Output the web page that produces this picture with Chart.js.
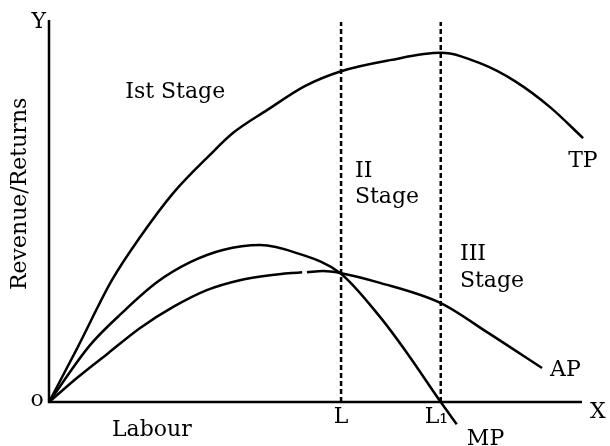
<!DOCTYPE html>
<html>
<head>
<meta charset="utf-8">
<script src="https://cdn.jsdelivr.net/npm/chart.js@4.4.1/dist/chart.umd.min.js"></script>
<style>
  html, body { margin: 0; padding: 0; background: #fff; }
  canvas { display: block; }
</style>
</head>
<body>
<canvas id="chart" width="610" height="446"></canvas>
<script>
// labour units on x (0-100), output on y (0-100)
const tpX = [0, 5.4, 11.8, 17.1, 23.3, 30.2, 34.5, 40.9, 48.0, 54.8, 64.0, 73.5, 81.2, 87.4, 94.0, 100.2];
const tpY = [0, 14.4, 31.9, 43.2, 54.7, 64.7, 70.4, 76.4, 82.7, 86.6, 89.5, 91.4, 88.5, 84.0, 77.2, 69.1];

const mpX = [0, 7.7, 13.9, 20.3, 26.5, 32.6, 39.6, 46.5, 54.6, 62.1, 67.2, 73.5, 76.5];
const mpY = [0, 14.9, 23.6, 31.4, 36.6, 39.8, 41.1, 39.0, 33.8, 22.3, 12.8, 0, -5.8];

// the AP line has a small break near x = 48
const apX = [0, 5.4, 11.1, 17.1, 23.3, 29.6, 35.8, 41.5, 47.5, 48.0, 48.4, 51.4, 54.6, 62.1, 73.5, 82.4, 92.5];
const apY = [0, 6.5, 12.8, 19.4, 24.9, 29.3, 31.9, 33.2, 34.0, null, 34.0, 34.3, 33.8, 31.2, 25.9, 18.1, 8.9];

const stageX = [54.8, 73.5];     // L and L1
const stageTop = 99.5;
const axisTop = 100;
const axisRight = 100;

const labels = [
  { text: "Ist Stage", x: 14.3, y: 79.6, align: "left" },
  { text: "II", x: 57.4, y: 58.9, align: "left" },
  { text: "Stage", x: 57.4, y: 52.1, align: "left" },
  { text: "III", x: 77.1, y: 37.2, align: "left" },
  { text: "Stage", x: 77.1, y: 30.1, align: "left" },
  { text: "TP", x: 97.4, y: 61.5, align: "left" },
  { text: "AP", x: 94.0, y: 6.8, align: "left" },
  { text: "MP", x: 78.4, y: -11.3, align: "left" },
  { text: "L", x: 54.8, y: -5.5, align: "center" },
  { text: "L\u2081", x: 70.5, y: -5.5, align: "left" },
  { text: "Labour", x: 19.3, y: -8.9, align: "center" },
  { text: "o", x: -2.25, y: -1.0, align: "center" },
  { text: "Y", x: -1.9, y: 97.9, align: "center" },
  { text: "X", x: 101.5, y: -4.2, align: "left" }
];
const yTitle = { text: "Revenue/Returns", x: -5.4, y: 54.5 };

const FONT = '22px "DejaVu Serif", serif';

function pts(xs, ys) {
  return xs.map((x, i) => ({ x, y: ys[i] }));
}

function curve(data) {
  return {
    data,
    borderColor: "#000",
    borderWidth: 2.5,
    pointRadius: 0,
    cubicInterpolationMode: "monotone",
    spanGaps: false,
    clip: false,
  };
}

function stageLine(x) {
  return {
    data: [{ x, y: 0 }, { x, y: stageTop }],
    borderColor: "#000",
    borderWidth: 2.5,
    borderDash: [5, 3],
    pointRadius: 0,
    clip: false,
  };
}

const axesPlugin = {
  id: "axes",
  beforeDatasetsDraw(chart) {
    const { ctx, scales: { x, y } } = chart;
    ctx.save();
    ctx.strokeStyle = "#000";
    ctx.lineWidth = 2.5;
    ctx.beginPath();
    ctx.moveTo(x.getPixelForValue(0), y.getPixelForValue(axisTop));
    ctx.lineTo(x.getPixelForValue(0), y.getPixelForValue(0));
    ctx.lineTo(x.getPixelForValue(axisRight), y.getPixelForValue(0));
    ctx.stroke();
    ctx.restore();
  },
  afterDraw(chart) {
    const { ctx, scales: { x, y } } = chart;
    ctx.save();
    ctx.fillStyle = "#000";
    ctx.font = FONT;
    ctx.textBaseline = "alphabetic";
    labels.forEach((l) => {
      ctx.textAlign = l.align;
      ctx.fillText(l.text, x.getPixelForValue(l.x), y.getPixelForValue(l.y));
    });
    ctx.translate(x.getPixelForValue(yTitle.x), y.getPixelForValue(yTitle.y));
    ctx.rotate(-Math.PI / 2);
    ctx.textAlign = "center";
    ctx.textBaseline = "middle";
    ctx.fillText(yTitle.text, 0, 0);
    ctx.restore();
  },
};

new Chart(document.getElementById("chart"), {
  type: "line",
  data: {
    datasets: [
      curve(pts(tpX, tpY)),
      curve(pts(mpX, mpY)),
      curve(pts(apX, apY)),
      stageLine(stageX[0]),
      stageLine(stageX[1]),
    ],
  },
  options: {
    responsive: false,
    animation: false,
    layout: { padding: { left: 49, right: 28, top: 20, bottom: 21 } },
    plugins: { legend: { display: false }, tooltip: { enabled: false } },
    scales: {
      x: { type: "linear", min: 0, max: 100, display: false },
      y: { type: "linear", min: -6, max: 100, display: false },
    },
  },
  plugins: [axesPlugin],
});
</script>
</body>
</html>
